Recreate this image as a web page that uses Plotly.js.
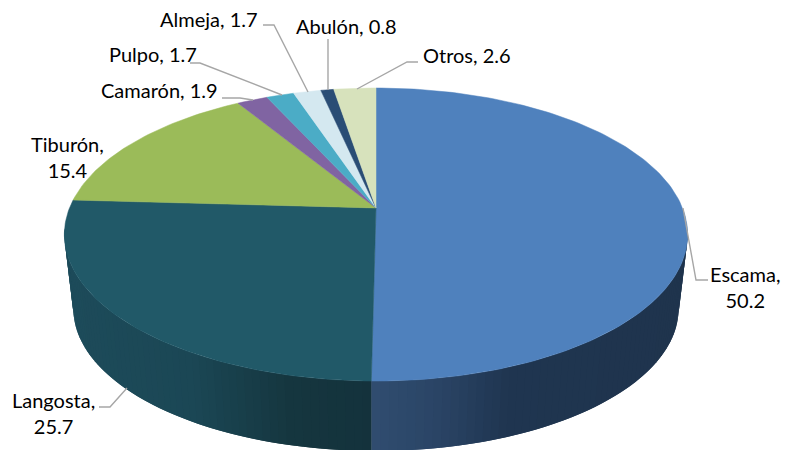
<!DOCTYPE html>
<html><head><meta charset="utf-8">
<script src="https://cdn.plot.ly/plotly-3.0.1.min.js"></script>
<style>html,body{margin:0;padding:0;background:#fff}#c{width:785px;height:450px}</style>
</head><body><div id="c"></div>
<script>
const categories = ["Escama","Langosta","Tiburón","Camarón","Pulpo","Almeja","Abulón","Otros"];
const values = [50.2,25.7,15.4,1.9,1.7,1.7,0.8,2.6];
const colors = ["#4F81BD","#215968","#9BBB59","#8064A2","#4BACC6","#D4E8F0","#2A4D75","#D7E2BC"];
// perspective disc
const cx=376, cy=208, A=306.5, B=141.7, K=0.181, S=0.971, DY=75;
function topPt(t){const u=Math.sin(t),v=Math.cos(t),w=1+K*v;return [cx+A*u/w, cy-B*v/w];}
function botPt(t){const p=topPt(t);return [cx+(p[0]-cx)*S, cy+(p[1]-cy)*S+DY];}
const hex=c=>[1,3,5].map(i=>parseInt(c.substr(i,2),16));
function ramp(stops,x){
  for(let i=0;i<stops.length-1;i++){const a=stops[i],b=stops[i+1];
    if(x<=b[0]||i==stops.length-2){const f=Math.max(0,Math.min(1,(x-a[0])/(b[0]-a[0])));
      const ca=hex(a[1]),cb=hex(b[1]);
      return 'rgb('+ca.map((v,j)=>Math.round(v+(cb[j]-v)*f)).join(',')+')';}}
}
const wallEscama=[[372,"#304D70"],[440,"#2A4465"],[510,"#1F3550"],[690,"#1F344D"]];
const wallLangosta=[[65,"#1D4B5A"],[190,"#1B4755"],[290,"#15363F"],[372,"#14323C"]];
const traces=[];
function poly(xs,ys,c,w){traces.push({type:'scatter',mode:'lines',x:xs,y:ys,fill:'toself',fillcolor:c,
  line:{color:c,width:w},hoverinfo:'skip',showlegend:false});}
const total=values.reduce((a,b)=>a+b,0);
const ang=v=>v/total*2*Math.PI;
// walls: painted in order, each strip overlapping the next so no seams show
const a0=98*Math.PI/180, a1=ang(values[0]), a2=262*Math.PI/180;
function wall(from,to,n,stops){
  for(let i=0;i<n;i++){
    const t0=from+(to-from)*i/n,t1=from+(to-from)*Math.min(i+2,n)/n,xs=[],ys=[];
    for(let j=0;j<=6;j++){const p=topPt(t0+(t1-t0)*j/6);xs.push(p[0]);ys.push(p[1]);}
    for(let j=6;j>=0;j--){const p=botPt(t0+(t1-t0)*j/6);xs.push(p[0]);ys.push(p[1]);}
    xs.push(xs[0]);ys.push(ys[0]);
    const m=topPt(from+(to-from)*(i+0.5)/n);
    poly(xs,ys,ramp(stops,m[0]),0);
  }
}
wall(a0,a1,60,wallEscama);
wall(a1,a2,60,wallLangosta);
// top slices
let acc=0;
values.forEach((v,i)=>{
  const s=ang(acc),e=ang(acc+v),xs=[cx],ys=[cy],n=Math.max(6,Math.ceil(v*3));
  for(let j=0;j<=n;j++){const p=topPt(s+(e-s)*j/n);xs.push(p[0]);ys.push(p[1]);}
  xs.push(cx);ys.push(cy);
  poly(xs,ys,colors[i],0.5);
  acc+=v;
});
// leader lines
const leaders=[
 [[683,696,708],[208,280,280]],
 [[127,110,99],[388,407,407]],
 [[222,240,253],[98,98,100]],
 [[190,200,282],[63,63,95]],
 [[263,274,308],[25,25,92]],
 [[328,328],[39,90]],
 [[418,407,357],[62,62,89]]
];
leaders.forEach(l=>traces.push({type:'scatter',mode:'lines',x:l[0],y:l[1],line:{color:'#A6A6A6',width:1.4},hoverinfo:'skip',showlegend:false}));
// labels
const labelX=[745,53,67,159,153,209,346,467];
const labelY=[286.5,413,157,90,54,19,26,55];
const labelBreak=[true,true,true,false,false,false,false,false];
const annotations=categories.map((c,i)=>({x:labelX[i],y:labelY[i],xref:'x',yref:'y',showarrow:false,
  text:c+','+(labelBreak[i]?'<br>':' ')+values[i].toFixed(1),align:'center',
  font:{family:'Lato, Carlito, sans-serif',size:20,color:'#000'}}));
Plotly.newPlot('c',traces,{
  width:785,height:450,margin:{l:0,r:0,t:0,b:0},paper_bgcolor:'#fff',plot_bgcolor:'#fff',showlegend:false,
  xaxis:{range:[0,785],visible:false,fixedrange:true},
  yaxis:{range:[450,0],visible:false,fixedrange:true},
  annotations:annotations
},{displayModeBar:false,staticPlot:true});
</script></body></html>
